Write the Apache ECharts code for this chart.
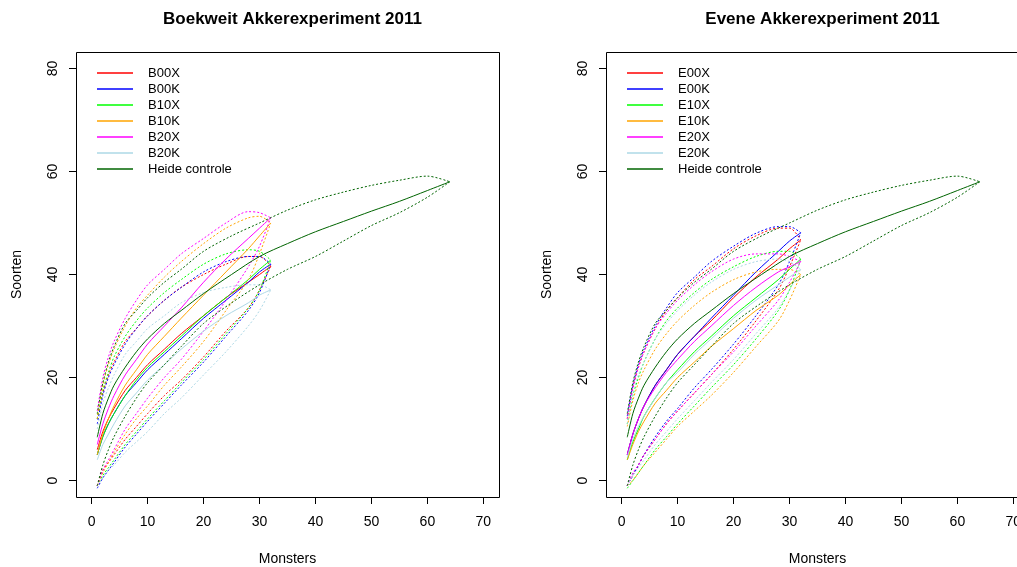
<!DOCTYPE html>
<html>
<head>
<meta charset="utf-8">
<script src="https://cdn.jsdelivr.net/npm/echarts@6/dist/echarts.min.js"></script>
<style>
html,body{margin:0;padding:0;background:#fff;}
#c{width:1017px;height:567px;}
</style>
</head>
<body>
<div id="c"></div>
<script>
// ---- data ----
const titles = ["Boekweit Akkerexperiment 2011", "Evene Akkerexperiment 2011"];
const xTicks = [0, 10, 20, 30, 40, 50, 60, 70];
const yTicks = [0, 20, 40, 60, 80];
const xsT = [1, 2, 3, 4, 6, 8, 10, 13, 16, 20, 24, 28, 30, 32];
const xsH = [1, 2, 3, 4, 6, 8, 10, 13, 16, 20, 25, 30, 35, 40, 45, 50, 55, 60, 64];

const heideMean  = [8.4, 13, 16, 18.5, 22, 25, 27.5, 30.5, 33, 36.3, 40, 43.5, 46, 48.3, 50.3, 52.3, 54.2, 56.3, 58];
const heideUpper = [13, 19, 23, 26, 30.5, 33, 35.5, 38.5, 41, 44.5, 47.5, 50, 52.5, 54.5, 56, 57.3, 58.3, 59.1, 58];
const heideLower = [-1, 3, 6, 8.5, 12.5, 16, 19, 22.5, 26, 30.5, 34.5, 38, 41, 43.5, 46.5, 49.5, 52, 55, 58];

// Boekweit
const b00xMean  = [6, 9.5, 12, 14, 17.5, 20, 22.5, 25.5, 28.5, 32, 35.5, 38.5, 40, 41.6];
const b00xUpper = [12, 17, 20.5, 23, 27, 29.5, 32, 35, 37.5, 40, 42, 43.5, 43.5, 41.6];
const b00xLower = [-1, 2, 3.5, 5, 8, 10.5, 13, 16.5, 19.5, 24, 29, 33.5, 37, 41.6];
const b00kMean  = [5, 8.5, 11, 13, 16.5, 19, 21.5, 24.5, 27.5, 31.5, 35, 38.5, 40.5, 42];
const b00kUpper = [11, 16.5, 20, 22.5, 26.5, 29.5, 32, 35, 37.5, 40.5, 42.5, 43.5, 43.5, 42];
const b00kLower = [-1.5, 0.5, 2, 3.5, 6.5, 9, 11.5, 15, 18.5, 23, 28, 33, 36.5, 42];
const b10xMean  = [5, 8.5, 11, 13, 16.5, 19.5, 22, 25, 28, 32, 35.5, 39, 41, 42.8];
const b10xUpper = [12, 17.5, 21, 24, 28, 31, 33.5, 36.5, 39, 42, 44, 44.8, 44.5, 42.8];
const b10xLower = [-1, 1, 2.5, 4, 7, 9.5, 12, 15.5, 19, 23.5, 28.5, 33.5, 37, 42.8];
const b10kMean  = [5, 9, 12, 14.5, 18.5, 21.5, 24.5, 28, 31.5, 36, 40.5, 45, 47.5, 50];
const b10kUpper = [12, 18.5, 22.5, 25.5, 30, 33.5, 36, 39.5, 42.5, 46, 49, 51, 51.3, 50];
const b10kLower = [-1, 1.5, 3.5, 5.5, 9, 12, 14.5, 18.5, 22, 27, 33, 39, 44, 50];
const b20xMean  = [7, 11, 14, 16.5, 20.5, 23.5, 26.5, 30, 33.5, 38.5, 43, 47, 49, 51];
const b20xUpper = [13.5, 20, 24, 27, 31.5, 35, 38, 41, 44, 47, 50, 52.2, 52, 51];
const b20xLower = [-1, 2, 4, 6, 10, 13, 16, 20, 23.5, 29, 35, 41.5, 45.5, 51];
const b20kMean  = [4, 7, 9, 11, 14.5, 17, 19.5, 22.5, 25.5, 29, 32, 34.5, 36, 37];
const b20kUpper = [10, 15, 18, 20.5, 24.5, 27, 29.5, 32, 34.5, 36.5, 37.5, 38, 38, 37];
const b20kLower = [-1, 0.5, 2, 3, 5.5, 7.5, 9.5, 13, 16, 20.5, 25, 30, 33, 37];

// Evene
const e00xMean  = [5, 9, 12, 14.5, 18.5, 21.5, 24.5, 28, 31, 35.5, 39.5, 43, 45, 46.7];
const e00xUpper = [12, 18, 22, 25, 29.5, 33, 35.5, 39, 41.5, 45, 47.5, 49, 49, 46.7];
const e00xLower = [-1, 1, 3, 5, 8, 11, 13.5, 17, 20.5, 25.5, 31, 37, 41.5, 46.7];
const e00kMean  = [5, 9, 12, 14.5, 18.5, 21.5, 24.5, 28, 31.5, 36, 40.5, 44.5, 46.5, 48.1];
const e00kUpper = [12.5, 18.5, 22.5, 25.5, 30, 33.5, 36.5, 39.5, 42.5, 45.5, 48, 49.3, 49.3, 48.1];
const e00kLower = [-1, 1, 3, 5, 8.5, 11.5, 14, 18, 21.5, 26.5, 32, 38, 42.5, 48.1];
const e10xMean  = [4, 7.5, 10, 12.5, 16, 19, 21.5, 25, 28, 32, 35.5, 39, 41, 43];
const e10xUpper = [11, 16.5, 20, 23, 27.5, 31, 33.5, 36.5, 39, 41.5, 43.5, 44.5, 44.5, 43];
const e10xLower = [-1.5, 0, 1.5, 3, 6, 8.5, 11, 14.5, 18, 22.5, 27.5, 33, 37, 43];
const e10kMean  = [4, 7, 9.5, 11.5, 15, 17.5, 20, 23, 26, 29.5, 33, 36, 38, 40];
const e10kUpper = [10.5, 15.5, 19, 21.5, 25.5, 28.5, 31, 34, 36.5, 39, 40.5, 41, 41, 40];
const e10kLower = [-1, 0, 1.5, 3, 5.5, 8, 10.5, 13.5, 16.5, 21, 26, 31, 35, 40];
const e20xMean  = [5, 9, 12, 14.5, 18, 21, 23.5, 27, 30, 34, 37.5, 40.5, 41.5, 42.5];
const e20xUpper = [12, 18, 22, 25, 29.5, 32.5, 35, 38, 40.5, 43, 44, 44, 43.5, 42.5];
const e20xLower = [-1, 1.5, 3, 5, 8, 11, 13.5, 17, 20.5, 25, 30, 35, 38.5, 42.5];
const e20kMean  = [4.5, 8, 10.5, 12.5, 16, 19, 21, 24.5, 27.5, 31.5, 35, 38, 39.5, 41];
const e20kUpper = [11, 17, 20.5, 23, 27.5, 30.5, 33, 36, 38.5, 41, 42.5, 43, 42.5, 41];
const e20kLower = [-1, 1, 2.5, 4, 7, 9.5, 12, 15.5, 19, 23.5, 28.5, 33.5, 37, 41];

const namesB = ["B00X", "B00K", "B10X", "B10K", "B20X", "B20K"];
const namesE = ["E00X", "E00K", "E10X", "E10K", "E20X", "E20K"];
const heideName = "Heide controle";
const colors = ["#FF0000", "#0000FF", "#00FF00", "#FFA500", "#FF00FF", "#ADD8E6"];
const heideColor = "#006400";

const groupsB = [
  [b00xMean, b00xUpper, b00xLower], [b00kMean, b00kUpper, b00kLower],
  [b10xMean, b10xUpper, b10xLower], [b10kMean, b10kUpper, b10kLower],
  [b20xMean, b20xUpper, b20xLower], [b20kMean, b20kUpper, b20kLower]
];
const groupsE = [
  [e00xMean, e00xUpper, e00xLower], [e00kMean, e00kUpper, e00kLower],
  [e10xMean, e10xUpper, e10xLower], [e10kMean, e10kUpper, e10kLower],
  [e20xMean, e20xUpper, e20xLower], [e20kMean, e20kUpper, e20kLower]
];

// ---- chart ----
const chart = echarts.init(document.getElementById('c'), null, {renderer: 'canvas'});
const FONT = 'Liberation Sans, Arial, sans-serif';

function line(name, xs, ys, color, dotted, gi) {
  return {
    type: 'line', name: name, xAxisIndex: gi, yAxisIndex: gi,
    data: xs.map((x, i) => [x, ys[i]]),
    symbol: 'none', showSymbol: false, smooth: 0.3,
    clip: false, silent: true, animation: false,
    itemStyle: {color: color},
    lineStyle: {color: color, width: 1, type: dotted ? [2, 2] : 'solid'}
  };
}

const series = [];
[[groupsB, namesB], [groupsE, namesE]].forEach(([groups, names], gi) => {
  groups.forEach((g, k) => {
    series.push(line(names[k], xsT, g[0], colors[k], false, gi));
    series.push(line(names[k] + ' upper', xsT, g[1], colors[k], true, gi));
    series.push(line(names[k] + ' lower', xsT, g[2], colors[k], true, gi));
  });
  series.push(line(heideName, xsH, heideMean, heideColor, false, gi));
  series.push(line(heideName + ' upper', xsH, heideUpper, heideColor, true, gi));
  series.push(line(heideName + ' lower', xsH, heideLower, heideColor, true, gi));
});

const panelOffset = 530;
// plot box = grid; R-style 4% padding around the 0-70 / 0-80 ranges
const grids = [0, 1].map(i => ({
  left: 76 + i * panelOffset, top: 52, width: 423, height: 445,
  containLabel: false, outerBoundsMode: 'none'
}));

function xAxis(i) {
  return {
    gridIndex: i, type: 'value', min: -2.8, max: 72.8,
    axisLine: {show: false, onZero: false}, splitLine: {show: false},
    axisTick: {show: true, length: 7, lineStyle: {color: '#000', width: 1}, customValues: xTicks},
    axisLabel: {fontSize: 14, color: '#000', fontFamily: FONT, margin: 18, customValues: xTicks},
    name: 'Monsters', nameLocation: 'middle', nameGap: 55,
    nameTextStyle: {fontSize: 14, color: '#000', fontFamily: FONT}
  };
}
function yAxis(i) {
  return {
    gridIndex: i, type: 'value', min: -3.2, max: 83.2,
    axisLine: {show: false, onZero: false}, splitLine: {show: false},
    axisTick: {show: true, length: 7, lineStyle: {color: '#000', width: 1}, customValues: yTicks},
    axisLabel: {fontSize: 14, color: '#000', fontFamily: FONT, rotate: 90, margin: 16, customValues: yTicks},
    name: 'Soorten', nameLocation: 'middle', nameGap: 52, nameRotate: 90,
    nameTextStyle: {fontSize: 14, color: '#000', fontFamily: FONT}
  };
}

function legend(i, names) {
  return {
    show: true, orient: 'vertical', left: 92 + i * panelOffset, top: 60,
    itemWidth: 36, itemHeight: 1.5, itemGap: 0, icon: 'rect',
    selectedMode: false,
    data: names.concat([heideName]),
    textStyle: {fontSize: 13, color: '#000', fontFamily: FONT, lineHeight: 16, padding: [0, 0, 0, 10]}
  };
}

const option = {
  backgroundColor: '#fff',
  animation: false,
  title: titles.map((t, i) => ({
    text: t, left: 287.5 + i * panelOffset, top: 6, textAlign: 'center',
    textStyle: {fontSize: 17, fontWeight: 'bold', color: '#000', fontFamily: FONT}
  })),
  legend: [legend(0, namesB), legend(1, namesE)],
  grid: grids,
  xAxis: [xAxis(0), xAxis(1)],
  yAxis: [yAxis(0), yAxis(1)],
  graphic: [0, 1].map(i => ({
    type: 'rect', silent: true, z: 100,
    shape: {x: 76.5 + i * panelOffset, y: 52.5, width: 423, height: 445},
    style: {fill: 'none', stroke: '#000', lineWidth: 1}
  })),
  series: series
};
chart.setOption(option);
</script>
</body>
</html>
